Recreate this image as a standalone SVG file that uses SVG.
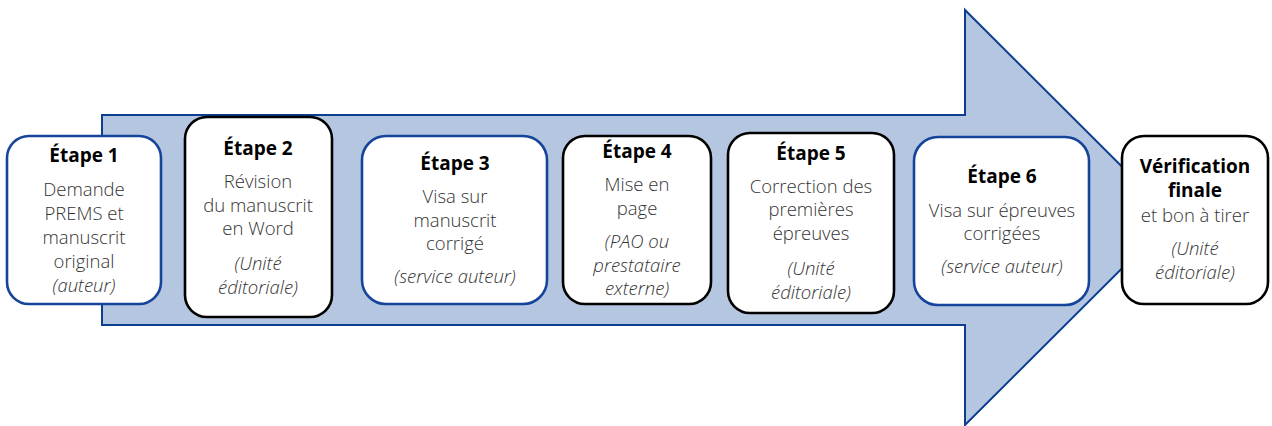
<svg xmlns="http://www.w3.org/2000/svg" width="1272" height="426" viewBox="0 0 1272 426">
<style>
.box{fill:#fff;stroke-width:2.6}
.blue{stroke:#16449a}
.black{stroke:#000}
text{font-family:"Open Sans","Noto Sans",sans-serif;text-anchor:middle;font-size:18.5px;fill:#333;font-weight:300}
.h{font-weight:700;fill:#000;font-size:19px}
.i{font-style:italic}
</style>
<g id="arrow">
<path d="M102,115 L965,115 L965,10 L1173,217.5 L965,425 L965,325 L102,325 Z" fill="#b4c6e0" stroke="#0d3f8f" stroke-width="2"/>
</g>
<g id="connectors"></g>
<g id="step1">
<rect class="box blue" x="7" y="136" width="154" height="168" rx="22"/>
<text class="h" x="84" y="162">Étape 1</text>
<text x="84" y="196">Demande</text>
<text x="84" y="220">PREMS et</text>
<text x="84" y="244">manuscrit</text>
<text x="84" y="268">original</text>
<text class="i" x="84" y="292">(auteur)</text>
</g>
<g id="step2">
<rect class="box black" x="185" y="117" width="147" height="200" rx="22"/>
<text class="h" x="258" y="155">Étape 2</text>
<text x="258" y="188">Révision</text>
<text x="258" y="212">du manuscrit</text>
<text x="258" y="235">en Word</text>
<text class="i" x="258" y="270">(Unité</text>
<text class="i" x="258" y="294">éditoriale)</text>
</g>
<g id="step3">
<rect class="box blue" x="362" y="136" width="185" height="168" rx="24"/>
<text class="h" x="455" y="170">Étape 3</text>
<text x="455" y="203">Visa sur</text>
<text x="455" y="227">manuscrit</text>
<text x="455" y="250">corrigé</text>
<text class="i" x="455" y="283">(service auteur)</text>
</g>
<g id="step4">
<rect class="box black" x="563" y="136" width="148" height="168" rx="22"/>
<text class="h" x="637" y="158">Étape 4</text>
<text x="637" y="191">Mise en</text>
<text x="637" y="215">page</text>
<text class="i" x="637" y="248">(PAO ou</text>
<text class="i" x="637" y="272">prestataire</text>
<text class="i" x="637" y="295">externe)</text>
</g>
<g id="step5">
<rect class="box black" x="728" y="133" width="166" height="180" rx="22"/>
<text class="h" x="811" y="160">Étape 5</text>
<text x="811" y="193">Correction des</text>
<text x="811" y="216">premières</text>
<text x="811" y="240">épreuves</text>
<text class="i" x="811" y="275">(Unité</text>
<text class="i" x="811" y="299">éditoriale)</text>
</g>
<g id="step6">
<rect class="box blue" x="914" y="137" width="175" height="168" rx="24"/>
<text class="h" x="1002" y="183">Étape 6</text>
<text x="1002" y="217">Visa sur épreuves</text>
<text x="1002" y="240">corrigées</text>
<text class="i" x="1002" y="273">(service auteur)</text>
</g>
<g id="final">
<rect class="box black" x="1122" y="136" width="146" height="168" rx="22"/>
<text class="h" x="1195" y="173">Vérification</text>
<text class="h" x="1195" y="197">finale</text>
<text x="1195" y="222">et bon à tirer</text>
<text class="i" x="1195" y="255">(Unité</text>
<text class="i" x="1195" y="279">éditoriale)</text>
</g>
</svg>
